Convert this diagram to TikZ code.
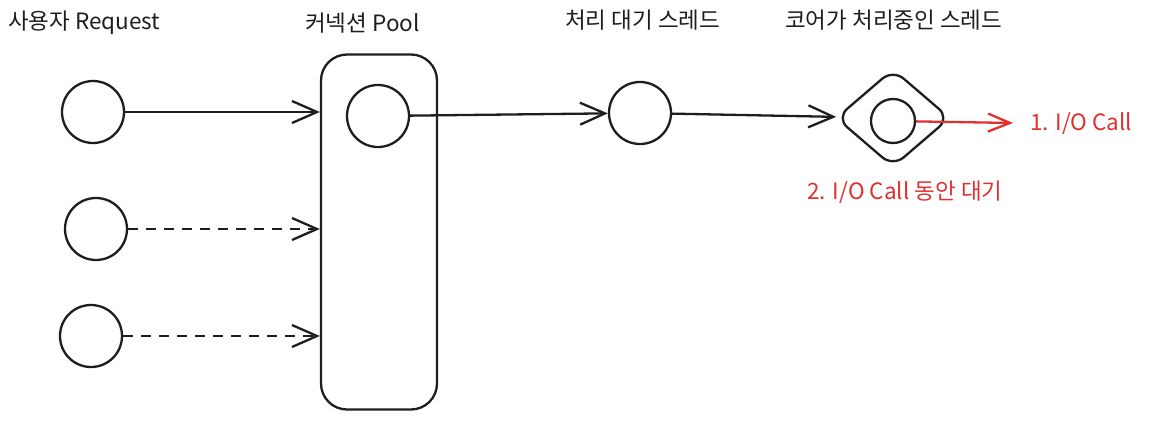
\documentclass[tikz,border=0pt]{standalone}
\usepackage{fontspec}
\setmainfont{Noto Sans CJK KR}
\usepackage{xcolor}
\usetikzlibrary{arrows.meta,positioning,shapes.geometric,calc}
\definecolor{ink}{HTML}{1E1E1E}
\definecolor{callred}{HTML}{E03131}

\begin{document}
\begin{tikzpicture}[
  x=1pt, y=-1pt,
  every node/.style={font=\fontsize{22.5}{26}\selectfont, text=ink},
  req/.style={draw=ink, circle, line width=2.3pt, minimum size=62pt, inner sep=0pt},
  thread/.style={draw=ink, circle, line width=2.3pt, minimum size=44pt, inner sep=0pt},
  pool/.style={draw=ink, rounded corners=26pt, line width=2.3pt, minimum width=116pt, minimum height=355pt, inner sep=0pt},
  core/.style={draw=ink, diamond, rounded corners=14pt, line width=2.3pt, minimum width=114pt, minimum height=98pt, inner sep=0pt},
  title/.style={anchor=west, inner sep=0pt},
  arr/.style={-{Straight Barb[length=25pt, width=22pt]}, draw=ink, line width=2.3pt},
  redarr/.style={-{Straight Barb[length=22pt, width=18pt]}, draw=callred, line width=2.3pt}
]
\path[use as bounding box] (0,0) rectangle (1164,421);

% titles
\node[title] (tuser) at (8,23) {사용자 Request};
\node[title] (tpool) at (305,23) {커넥션 Pool};
\node[title] (twait) at (565,20) {처리 대기 스레드};
\node[title] (tcore) at (785,20) {코어가 처리중인 스레드};

% user requests
\node[req] (req1) at (93,112) {};
\node[req] (req2) at (96,229) {};
\node[req] (req3) at (91,336) {};

% connection pool
\node[pool] (pool) at (379,232) {};
\node[req] (conn) at (378,116) {};

% threads
\node[req] (wait) at (640,113) {};
\node[core] (core) at (893,118) {};
\node[thread] (run) at (893,121) {};
\coordinate (io) at (1013,123);

% red labels
\node[title, text=callred] (iocall) at (1030,124) {1. I/O Call};
\node[text=callred, inner sep=0pt] (iowait) at (905,192) {2. I/O Call 동안 대기};

\draw[arr] (req1) -- (req1 -| pool.west);
\draw[arr, dash pattern=on 10pt off 8pt] (req2) -- (req2 -| pool.west);
\draw[arr, dash pattern=on 10pt off 8pt] (req3) -- (req3 -| pool.west);
\draw[arr] (conn) -- (wait);
\draw[arr] (wait) -- (core);
\draw[redarr] (run) -- (io);
\end{tikzpicture}
\end{document}
